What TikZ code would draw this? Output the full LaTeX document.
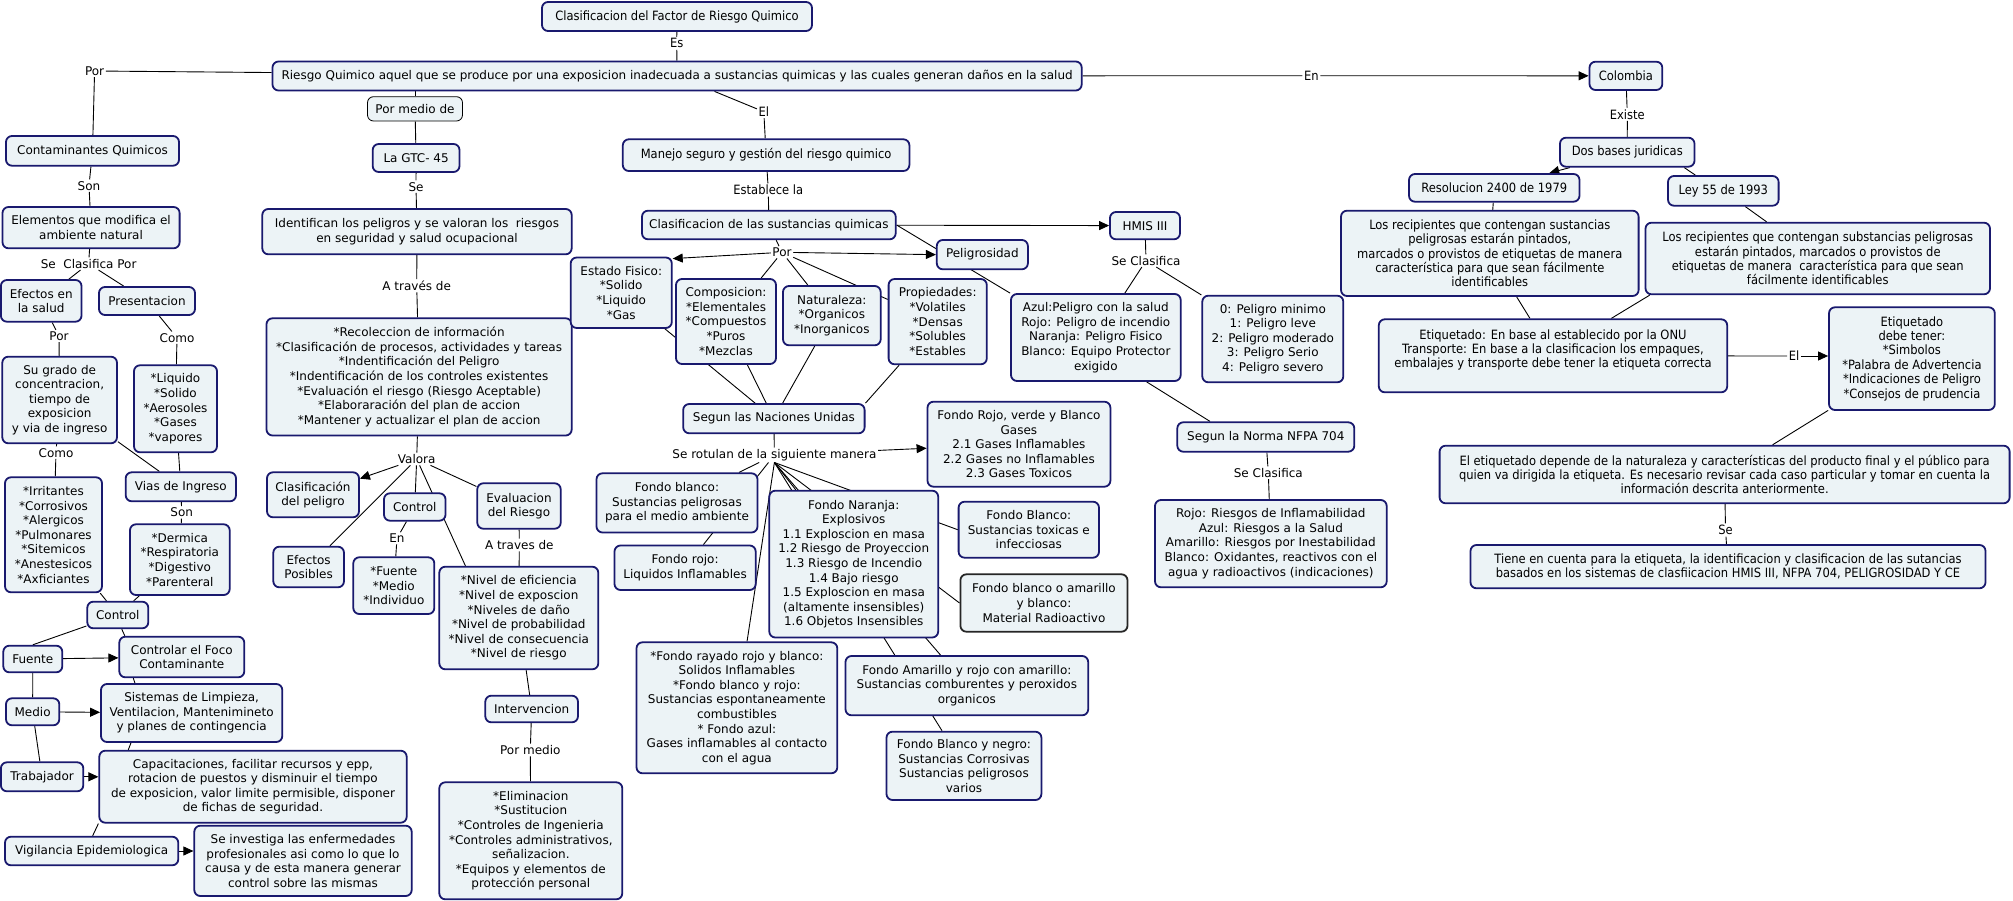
\documentclass[tikz,border=0pt]{standalone}
\usepackage{fontspec}
\setmainfont{DejaVu Sans}
\newfontfamily\cnd{DejaVu Sans Condensed}
\usetikzlibrary{arrows.meta,backgrounds}
\definecolor{bfill}{RGB}{236,243,246}
\definecolor{bdraw}{RGB}{25,25,110}
\tikzset{
  cbox/.style={draw=bdraw, fill=bfill, line width=1.8pt, rounded corners=6pt, align=center, inner sep=2pt, font=\fontsize{12}{14.6}\selectfont},
  lbl/.style={inner sep=1.5pt, font=\fontsize{12}{14.6}\selectfont},
  cn/.style={font=\cnd\fontsize{12.8}{14.4}\selectfont},
  ln/.style={draw=black, line width=0.9pt},
  ar/.style={ln, -{Triangle[length=10pt,width=9pt]}},
}
\newcommand\mybox[7][]{\node[cbox,#1,minimum width={(#5-#3)*1pt},minimum height={(#6-#4)*1pt}] (#2) at ({(#3+#5)/2},{(#4+#6)/2}) {#7};}
\newcommand\mylab[5][]{\node[lbl,#1] (#2) at (#3,#4) {#5};}
\begin{document}
\begin{tikzpicture}[x=1pt,y=-1pt]
\useasboundingbox (0,0) rectangle (2013,901);
% ---------- concepts ----------
\mybox[cn]{title}{542}{2}{812}{31}{Clasificacion del Factor de Riesgo Quimico}
\mybox{main}{272.5}{61.5}{1081.7}{90.5}{Riesgo Quimico aquel que se produce por una exposicion inadecuada a sustancias quimicas y las cuales generan daños en la salud}
\mybox[draw=black,line width=0.8pt]{pormedio}{367.5}{96.7}{462.5}{121}{Por medio de}
\mybox{gtc}{372.7}{144}{459.5}{172}{La GTC- 45}
\mybox{ident}{262.3}{209}{571.7}{254.3}{Identifican los peligros y se valoran los~ riesgos\\en seguridad y salud ocupacional}
\mybox{recol}{266.5}{318.3}{571.7}{435.5}{*Recoleccion de información\\*Clasificación de procesos, actividades y tareas\\*Indentificación del Peligro\\*Indentificación de los controles existentes\\*Evaluación el riesgo (Riesgo Aceptable)\\*Elaboraración del plan de accion\\*Mantener y actualizar el plan de accion}
\mybox{clpel}{267}{472.3}{359}{517.3}{Clasificación\\del peligro}
\mybox{controlg}{384}{493.3}{445.5}{520.7}{Control}
\mybox{efpos}{273.3}{546.7}{344}{587.3}{Efectos\\Posibles}
\mybox{fmi}{353.3}{557.3}{434.3}{614}{*Fuente\\*Medio\\*Individuo}
\mybox{evalr}{477.3}{483.3}{560.7}{528.7}{Evaluacion\\del Riesgo}
\mybox{nivel}{439.3}{566.7}{598.3}{669.3}{*Nivel de eficiencia\\*Nivel de exposcion\\*Niveles de daño\\*Nivel de probabilidad\\*Nivel de consecuencia\\*Nivel de riesgo}
\mybox{interv}{485.3}{695.7}{578}{722.3}{Intervencion}
\mybox{elim}{439.3}{782.3}{622.3}{899.3}{*Eliminacion\\*Sustitucion\\*Controles de Ingenieria\\*Controles administrativos,\\señalizacion.\\*Equipos y elementos de\\protección personal}
\mybox{contam}{6}{136}{179}{165.7}{Contaminantes Quimicos}
\mybox{elem}{2.5}{207}{179.6}{248.3}{Elementos que modifica el\\ambiente natural}
\mybox{efsalud}{0.9}{280}{81.5}{321.7}{Efectos en\\la salud}
\mybox{present}{99}{287}{195}{315}{Presentacion}
\mybox{sugrado}{2.3}{356.7}{117}{443.3}{Su grado de\\concentracion,\\tiempo de\\exposicion\\y via de ingreso}
\mybox{liquido}{134}{365.3}{217}{452.3}{*Liquido\\*Solido\\*Aerosoles\\*Gases\\*vapores}
\mybox{vias}{125.7}{472.3}{236}{501.3}{Vias de Ingreso}
\mybox{irrit}{5}{477.3}{102}{592.3}{*Irritantes\\*Corrosivos\\*Alergicos\\*Pulmonares\\*Sitemicos\\*Anestesicos\\*Axficiantes}
\mybox{dermica}{130}{524.3}{229.7}{595}{*Dermica\\*Respiratoria\\*Digestivo\\*Parenteral}
\mybox{controll}{87.3}{601.7}{148.3}{628.3}{Control}
\mybox{foco}{119.3}{636.7}{244.3}{677.3}{Controlar el Foco\\Contaminante}
\mybox{fuente}{3.3}{645.7}{62.3}{672.3}{Fuente}
\mybox{medio}{6}{698.3}{59.3}{725.3}{Medio}
\mybox{sistemas}{101}{684}{282.3}{742}{Sistemas de Limpieza,\\Ventilacion, Mantenimineto\\y planes de contingencia}
\mybox{trab}{0.9}{762.3}{83.3}{791.3}{Trabajador}
\mybox{capac}{99.3}{750.7}{406.7}{822.7}{Capacitaciones, facilitar recursos y epp,\\rotacion de puestos y disminuir el tiempo\\de exposicion, valor limite permisible, disponer\\de fichas de seguridad.}
\mybox{vigil}{5}{836.7}{178.3}{865.3}{Vigilancia Epidemiologica}
\mybox{seinv}{194.3}{825.7}{411.7}{896}{Se investiga las enfermedades\\profesionales asi como lo que lo\\causa y de esta manera generar\\control sobre las mismas}
\mybox[cn]{manejo}{622.8}{139.3}{909.4}{171}{Manejo seguro y gestión del riesgo quimico}
\mybox{clsust}{642}{210.7}{895.7}{239.3}{Clasificacion de las sustancias quimicas}
\mybox{peligros}{936.8}{240}{1027.9}{269.3}{Peligrosidad}
\mybox{hmis}{1110}{212}{1180}{239.3}{HMIS III}
\mybox{estado}{570.7}{257.5}{671.8}{328}{Estado Fisico:\\*Solido\\*Liquido\\*Gas}
\mybox{compos}{676}{279}{776}{364}{Composicion:\\*Elementales\\*Compuestos\\*Puros\\*Mezclas}
\mybox{natur}{783}{286}{880.7}{345.3}{Naturaleza:\\*Organicos\\*Inorganicos}
\mybox{propi}{888.6}{279}{986.8}{364.3}{Propiedades:\\*Volatiles\\*Densas\\*Solubles\\*Estables}
\mybox{naciones}{683.2}{404}{864.6}{433.3}{Segun las Naciones Unidas}
\mybox{frvb}{927.5}{401.7}{1110.4}{486.7}{Fondo Rojo, verde y Blanco\\Gases\\2.1 Gases Inflamables\\2.2 Gases no Inflamables\\2.3 Gases Toxicos}
\mybox{fblanco}{596.5}{473.3}{757.5}{532.5}{Fondo blanco:\\Sustancias peligrosas\\para el medio ambiente}
\mybox{frojo}{614.5}{545.5}{755.7}{590}{Fondo rojo:\\Liquidos Inflamables}
\mybox{fnaranja}{769.3}{490.7}{938.2}{637.5}{Fondo Naranja:\\Explosivos\\1.1 Exploscion en masa\\1.2 Riesgo de Proyeccion\\1.3 Riesgo de Incendio\\1.4 Bajo riesgo\\1.5 Exploscion en masa\\(altamente insensibles)\\1.6 Objetos Insensibles}
\mybox{ftox}{958.6}{501.7}{1099}{557.7}{Fondo Blanco:\\Sustancias toxicas e\\infecciosas}
\mybox[draw=black!85]{fradio}{960.4}{574.3}{1127.5}{631.7}{Fondo blanco o amarillo\\y blanco:\\Material Radioactivo}
\mybox{frayado}{636.5}{642.3}{837.3}{773.3}{*Fondo rayado rojo y blanco:\\Solidos Inflamables\\*Fondo blanco y rojo:\\Sustancias espontaneamente\\combustibles\\* Fondo azul:\\Gases inflamables al contacto\\con el agua}
\mybox{famar}{845.5}{656}{1088.2}{715.3}{Fondo Amarillo y rojo con amarillo:\\Sustancias comburentes y peroxidos\\organicos}
\mybox{fbyn}{886.5}{731.7}{1041.4}{800}{Fondo Blanco y negro:\\Sustancias Corrosivas\\Sustancias peligrosos\\varios}
\mybox{azul}{1011}{294}{1180.7}{381}{Azul:Peligro con la salud\\Rojo: Peligro de incendio\\Naranja: Peligro Fisico\\Blanco: Equipo Protector\\exigido}
\mybox{cero}{1202.3}{295.7}{1343.3}{382.3}{0: Peligro minimo\\1: Peligro leve\\2: Peligro moderado\\3: Peligro Serio\\4: Peligro severo}
\mybox{nfpa}{1177.3}{422.3}{1354.3}{451.7}{Segun la Norma NFPA 704}
\mybox{rojor}{1155}{500}{1386.7}{587.3}{Rojo: Riesgos de Inflamabilidad\\Azul: Riesgos a la Salud\\Amarillo: Riesgos por Inestabilidad\\Blanco: Oxidantes, reactivos con el\\agua y radioactivos (indicaciones)}
\mybox[cn]{colombia}{1589.5}{61.7}{1662.3}{90}{Colombia}
\mybox[cn]{dosbases}{1560}{137.7}{1694.5}{166.7}{Dos bases juridicas}
\mybox[cn]{resol}{1409}{174}{1579.5}{201.7}{Resolucion 2400 de 1979}
\mybox[cn]{ley}{1668}{176}{1778.6}{205.7}{Ley 55 de 1993}
\mybox[cn]{recip1}{1341}{210.7}{1638.6}{296}{Los recipientes que contengan sustancias\\peligrosas estarán pintados,\\marcados o provistos de etiquetas de manera\\característica para que sean fácilmente\\identificables}
\mybox[cn]{recip2}{1645.5}{222.7}{1990}{294.3}{Los recipientes que contengan substancias peligrosas\\estarán pintados, marcados o provistos de\\etiquetas de manera~ característica para que sean\\fácilmente identificables}
\mybox[cn]{etiq}{1378.8}{319.3}{1727.2}{392.3}{Etiquetado: En base al establecido por la ONU\\Transporte: En base a la clasificacion los empaques,\\embalajes y transporte debe tener la etiqueta correcta\\~}
\mybox[cn]{etiqdebe}{1829}{307.3}{1994.8}{410}{Etiquetado\\debe tener:\\*Simbolos\\*Palabra de Advertencia\\*Indicaciones de Peligro\\*Consejos de prudencia}
\mybox[cn]{depende}{1439.6}{445.7}{2009.6}{503.3}{El etiquetado depende de la naturaleza y características del producto final y el público para\\quien va dirigida la etiqueta. Es necesario revisar cada caso particular y tomar en cuenta la\\información descrita anteriormente.}
\mybox[cn]{tiene}{1470.5}{545}{1985.5}{588.3}{Tiene en cuenta para la etiqueta, la identificacion y clasificacion de las sutancias\\basados en los sistemas de clasfiicacion HMIS III, NFPA 704, PELIGROSIDAD Y CE}
% ---------- linking phrases ----------
\mylab[cn]{es}{676.7}{43.3}{Es}
\mylab{porl}{94.6}{71}{Por}
\mylab[cn]{en}{1311.4}{75.7}{En}
\mylab[cn]{el}{763.8}{111.7}{El}
\mylab{se1}{416}{186.7}{Se}
\mylab{atraves}{416.7}{285.7}{A través de}
\mylab{valora}{416.7}{459}{Valora}
\mylab{en2}{397}{538.3}{En}
\mylab{atraves2}{519.3}{545}{A traves de}
\mylab{pormed}{530.3}{750}{Por medio}
\mylab{son1}{89}{185.7}{Son}
\mylab{seclas}{88.6}{263.7}{Se~ Clasifica Por}
\mylab{por2}{59}{336}{Por}
\mylab{como1}{177}{337.7}{Como}
\mylab{como2}{56}{452.7}{Como}
\mylab{son2}{181.7}{512.3}{Son}
\mylab[cn]{establece}{768.3}{190}{Establece la}
\mylab{por3}{782}{252.3}{Por}
\mylab{serot}{774.4}{455}{Se rotulan de la siguiente manera}
\mylab{secl1}{1146}{260.7}{Se Clasifica}
\mylab{secl2}{1268.3}{472.7}{Se Clasifica}
\mylab[cn]{existe}{1627.3}{114.3}{Existe}
\mylab[cn]{el2}{1794}{356}{El}
\mylab[cn]{se2}{1725.5}{530}{Se}
% ---------- connectors ----------
\begin{pgfonlayer}{background}
\fill[white] (0,0) rectangle (2013,901);
\draw[ln] (title) -- (es);
\draw[ln] (es) -- (main);
\draw[ln] (main) -- (porl);
\draw[ln] (porl) -- (contam);
\draw[ln] (main) -- (en);
\draw[ar] (en) -- (colombia);
\draw[ln] (pormedio) -- (pormedio |- main.south);
\draw[ln] (pormedio) -- (gtc);
\draw[ln] (main) -- (el);
\draw[ln] (el) -- (manejo);
\draw[ln] (gtc) -- (se1);
\draw[ln] (se1) -- (ident);
\draw[ln] (ident) -- (atraves);
\draw[ln] (atraves) -- (recol);
\draw[ln] (recol) -- (valora);
\draw[ar] (valora) -- (clpel);
\draw[ln] (valora) -- (efpos);
\draw[ln] (valora) -- (controlg);
\draw[ln] (valora) -- ([xshift=27pt]nivel.north west);
\draw[ln] (valora) -- (evalr);
\draw[ln] (controlg) -- (en2);
\draw[ln] (en2) -- (fmi);
\draw[ln] (evalr) -- (atraves2);
\draw[ln] (atraves2) -- (nivel);
\draw[ln] (nivel) -- (interv);
\draw[ln] (interv) -- (pormed);
\draw[ln] (pormed) -- (elim);
\draw[ln] (contam) -- (son1);
\draw[ln] (son1) -- (elem);
\draw[ln] (elem) -- (seclas);
\draw[ln] (seclas) -- (efsalud);
\draw[ln] (seclas) -- (present);
\draw[ln] (efsalud) -- (por2);
\draw[ln] (por2) -- (sugrado);
\draw[ln] (present) -- (como1);
\draw[ln] (como1) -- (liquido);
\draw[ln] (sugrado) -- (como2);
\draw[ln] (como2) -- (irrit);
\draw[ln] (sugrado) -- (vias);
\draw[ln] (liquido) -- (vias);
\draw[ln] (vias) -- (son2);
\draw[ln] (son2) -- (dermica);
\draw[ln] (irrit) -- (controll);
\draw[ln] (dermica) -- (controll);
\draw[ln] (controll) -- (fuente.north);
\draw[ar] (fuente) -- (foco);
\draw[ln] (fuente) -- (medio);
\draw[ar] (medio) -- (sistemas);
\draw[ln] (medio) -- (trab);
\draw[ar] (trab) -- (trab -| capac.west);
\draw[ar] (vigil) -- (vigil -| seinv.west);
\draw[ln] ([xshift=4pt]controll.south) -- ([xshift=-57pt]foco.north);
\draw[ln] ([xshift=-48.5pt]foco.south) -- ([xshift=-56.7pt]sistemas.north);
\draw[ln] ([xshift=-60.7pt]sistemas.south) -- ([xshift=-124.7pt]capac.north);
\draw[ln] (capac.south west) -- ([xshift=1pt]vigil.north);
\draw[ln] (manejo) -- (establece);
\draw[ln] (establece) -- (clsust);
\draw[ar] (clsust) -- (hmis);
\draw[ln] (clsust.east) -- (azul.north west);
\draw[ln] (clsust) -- (por3);
\draw[ar] (por3) -- ([yshift=-2pt]estado.north east);
\draw[ar] (por3) -- (peligros.west);
\draw[ln] (por3) -- (compos);
\draw[ln] (por3) -- (natur);
\draw[ln] (por3) -- (propi);
\draw[ln] (estado) -- (naciones);
\draw[ln] (compos) -- (naciones);
\draw[ln] (natur) -- (naciones);
\draw[ln] (propi) -- (naciones.north east);
\draw[ln] (naciones) -- (serot);
\draw[ar] (serot) -- (frvb);
\draw[ln] (serot) -- (fblanco);
\draw[ln] (serot) -- (frojo);
\draw[ln] (serot.south) -- (frayado);
\draw[ln] (serot.south) -- (fnaranja);
\draw[ln] (serot.south) -- (ftox.west);
\draw[ln] (serot.south) -- (fradio.west);
\draw[ln] (serot.south) -- (famar);
\draw[ln] (serot.south) -- (fbyn);
\draw[ln] (hmis) -- (secl1);
\draw[ln] (secl1) -- (azul);
\draw[ln] (secl1) -- (cero);
\draw[ln] ([xshift=50.8pt]azul.south) -- ([xshift=-55.8pt]nfpa.north);
\draw[ln] (nfpa) -- (secl2);
\draw[ln] (secl2) -- (rojor);
\draw[ln] (colombia) -- (existe);
\draw[ln] (existe) -- (dosbases);
\draw[ar] (dosbases) -- (resol);
\draw[ln] ([xshift=57pt]dosbases.south) -- ([xshift=-28pt]ley.north);
\draw[ln] (resol) -- (recip1);
\draw[ln] (ley) -- (recip2);
\draw[ln] (recip1) -- (etiq);
\draw[ln] ([xshift=5pt]recip2.south west) -- ([xshift=233.4pt]etiq.north west);
\draw[ln] (etiq) -- (el2);
\draw[ar] (el2) -- (el2 -| etiqdebe.west);
\draw[ln] (etiqdebe) -- (depende);
\draw[ln] (depende) -- (se2);
\draw[ln] (se2) -- (tiene);
\end{pgfonlayer}
\end{tikzpicture}
\end{document}
